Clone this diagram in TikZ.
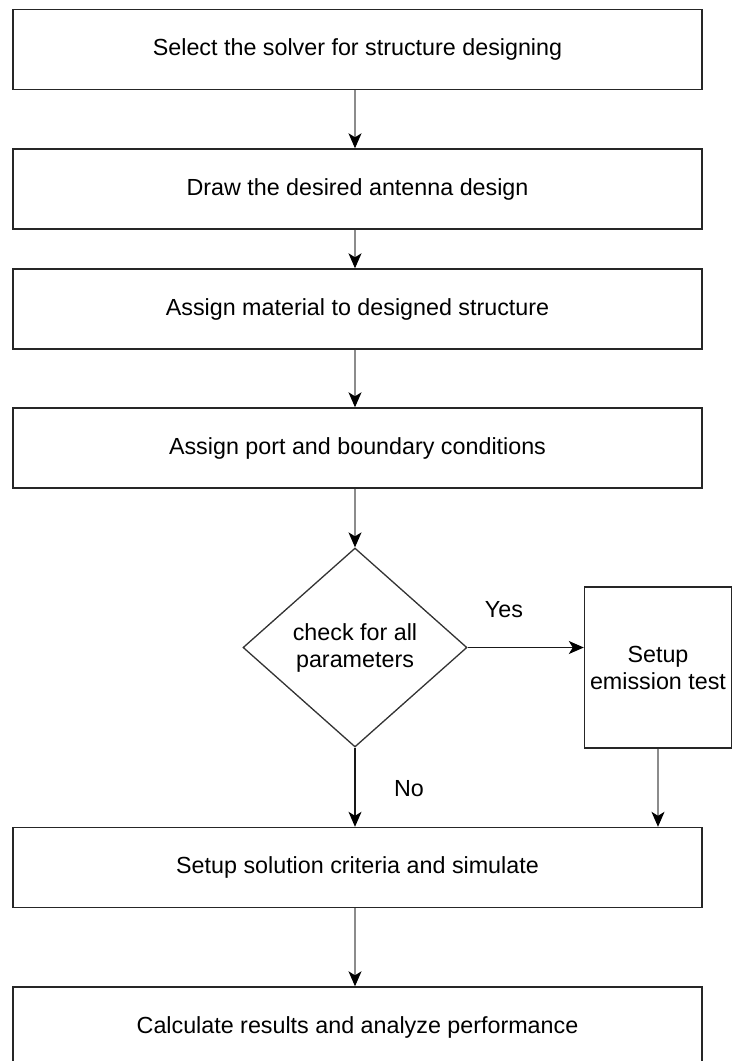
\documentclass[tikz,border=0pt]{standalone}
\usepackage{fontspec}
\setmainfont{Liberation Sans}
\usetikzlibrary{shapes.geometric,arrows.meta}

\tikzset{
  txt/.style={font=\fontsize{23.3}{27}\selectfont},
  stepbox/.style={txt, draw=black!85, line width=1.4pt, rectangle, inner sep=0pt,
    minimum width=689pt, minimum height=80pt},
  sidebox/.style={txt, draw=black!85, line width=1.4pt, rectangle, inner sep=0pt,
    minimum width=147pt, minimum height=161pt, align=center},
  decision/.style={txt, draw=black!80, line width=1.3pt, diamond, inner sep=0pt,
    minimum width=224pt, minimum height=199pt, align=center},
  flow/.style={draw=black!45, line width=1.1pt,
    -{Stealth[length=15pt,width=13pt,inset=4pt,color=black]}},
  flowdark/.style={flow, draw=black!90},
  lbl/.style={txt, inner sep=0pt}
}

\begin{document}
\begin{tikzpicture}[x=1pt,y=-1pt]
  \useasboundingbox (0,0) rectangle (732,1061);

  % main column of steps
  \node[stepbox] (solver)   at (357.5,49.5)  {Select the solver for structure designing};
  \node[stepbox] (draw)     at (357.5,189)   {Draw the desired antenna design};
  \node[stepbox] (material) at (357.5,309)   {Assign material to designed structure};
  \node[stepbox] (port)     at (357.5,448)   {Assign port and boundary conditions};
  \node[decision] (check)   at (355,647.5)   {check for all\\parameters};
  \node[sidebox] (emission) at (658,667.5)   {Setup\\emission test};
  \node[stepbox] (setup)    at (357.5,867.5) {Setup solution criteria and simulate};
  \node[stepbox] (calc)     at (357.5,1027)  {Calculate results and analyze performance};

  % connectors
  \draw[flow] (solver.south -| check.north) -- (draw.north -| check.north);
  \draw[flow] (draw.south -| check.north) -- (material.north -| check.north);
  \draw[flow] (material.south -| check.north) -- (port.north -| check.north);
  \draw[flow] (port.south -| check.north) -- (check.north);
  \draw[flowdark] (check.east) -- (check.east -| emission.west);
  \draw[flowdark] (check.south) -- (setup.north -| check.south);
  \draw[flow] (emission.south) -- (setup.north -| emission.south);
  \draw[flow] (setup.south -| check.north) -- (calc.north -| check.north);

  % branch labels
  \node[lbl] (yes) at (504,610) {Yes};
  \node[lbl] (no)  at (409,789) {No};
\end{tikzpicture}
\end{document}
